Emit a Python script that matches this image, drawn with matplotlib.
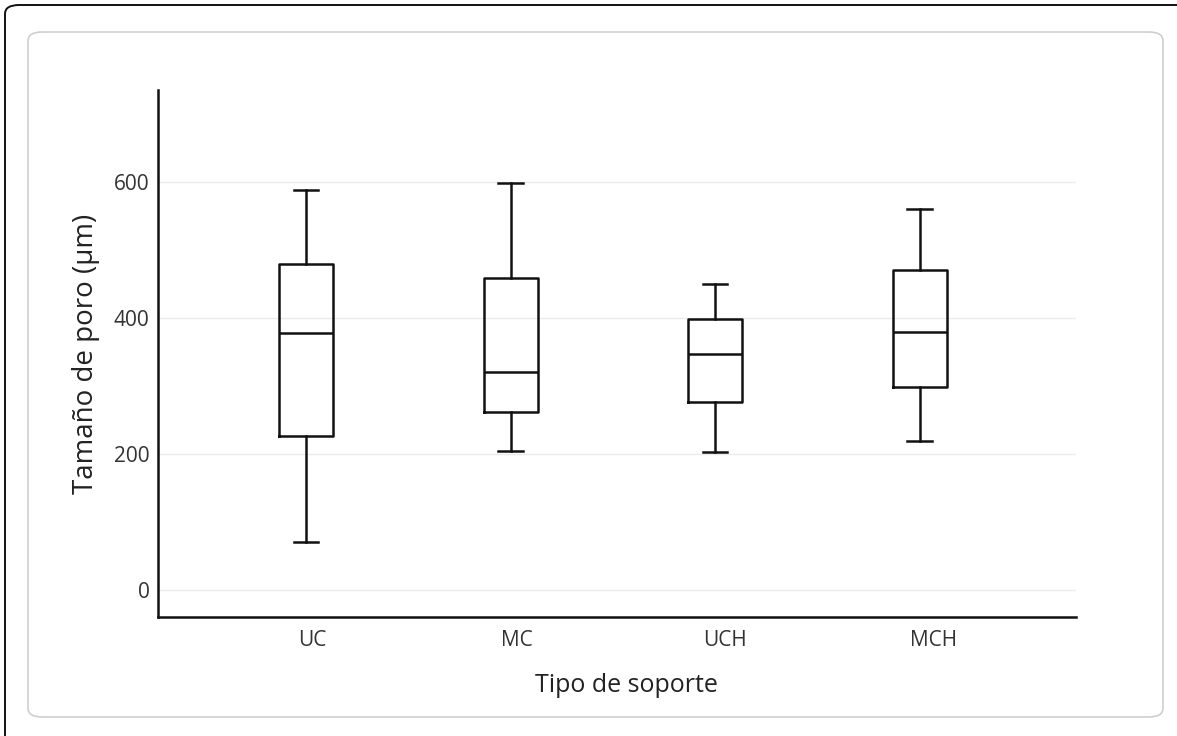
import matplotlib
matplotlib.use("Agg")
import matplotlib.pyplot as plt
from matplotlib.patches import FancyBboxPatch

categories = ["UC", "MC", "UCH", "MCH"]
whislo = [71, 205, 203, 220]
q1 = [227, 262, 277, 299]
med = [378, 321, 348, 380]
q3 = [480, 460, 399, 471]
whishi = [589, 599, 450, 561]
yticks = [0, 200, 400, 600]

plt.rcParams['font.family'] = ['Open Sans', 'DejaVu Sans']

W, H = 1177, 736
fig = plt.figure(figsize=(W / 100, H / 100), dpi=100)

# outer black frame (partially off-canvas)
outer = FancyBboxPatch((5 / W, -0.2), 1.3, 1.2 - 5 / H,
                       boxstyle="round,pad=0,rounding_size=0.012",
                       transform=fig.transFigure, fill=False,
                       edgecolor="#111111", linewidth=1.4)
fig.patches.append(outer)
inner = FancyBboxPatch((28 / W, (H - 717) / H), (1163 - 28) / W, (717 - 32) / H,
                       boxstyle="round,pad=0,rounding_size=0.012",
                       transform=fig.transFigure, fill=False,
                       edgecolor="#cfcfcf", linewidth=1.2)
fig.patches.append(inner)

ax = fig.add_axes([158 / W, (H - 617) / H, (1076 - 158) / W, (617 - 90) / H])
ax.patch.set_alpha(0)

stats = []
for i, c in enumerate(categories):
    stats.append(dict(label=c, whislo=whislo[i], q1=q1[i], med=med[i],
                      q3=q3[i], whishi=whishi[i], fliers=[]))

lw = 1.8
ax.bxp(stats, positions=range(len(categories)), widths=0.264,
       showfliers=False, capwidths=0.12,
       boxprops=dict(color="#111111", linewidth=lw),
       whiskerprops=dict(color="#111111", linewidth=lw),
       capprops=dict(color="#111111", linewidth=lw),
       medianprops=dict(color="#111111", linewidth=lw))

ax.set_xticks([0.03, 1.03, 2.05, 3.07])
ax.set_xticklabels(categories)
ax.set_xlim(-0.724, 3.765)
ax.set_ylim(-39, 736)
ax.set_yticks(yticks)
ax.set_yticklabels([str(v) for v in yticks])
ax.yaxis.grid(True, color="#ebebeb", linewidth=1)
ax.set_axisbelow(True)
for s in ["top", "right"]:
    ax.spines[s].set_visible(False)
for s in ["left", "bottom"]:
    ax.spines[s].set_color("#111111")
    ax.spines[s].set_linewidth(1.8)
ax.tick_params(axis="y", length=0, labelsize=15, labelcolor="#333333", pad=6)
ax.tick_params(axis="x", length=0, labelsize=15, labelcolor="#333333", pad=9)
ax.set_xlabel("Tipo de soporte", fontsize=18, color="#222222")
ax.set_ylabel("Tamaño de poro (μm)", fontsize=20, color="#222222", labelpad=10)
ax.xaxis.set_label_coords(0.51, -0.107)

fig.savefig("out.png", dpi=100)
